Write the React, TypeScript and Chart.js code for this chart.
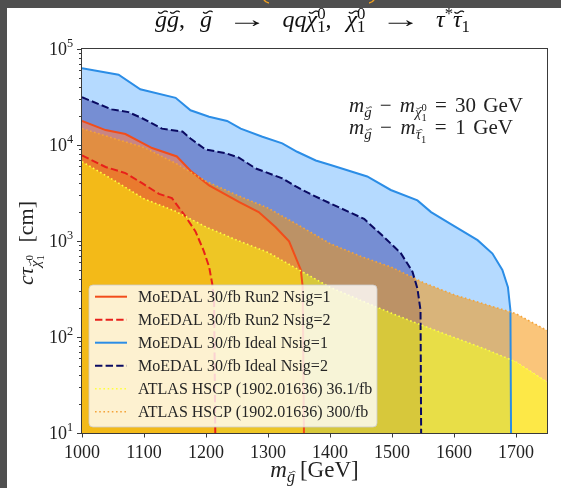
import React, { useEffect, useRef } from 'react';
import { Chart, registerables } from 'chart.js';

Chart.register(...registerables);

const FONT = '"Liberation Serif", "DejaVu Serif", serif';

// ---------- data ----------
const X_TICKS = [1000, 1100, 1200, 1300, 1400, 1500, 1600, 1700];
const Y_TICK_EXPONENTS = [1, 2, 3, 4, 5];

const ATLAS_MASS = [1000, 1050, 1100, 1150, 1200, 1250, 1300, 1350, 1400, 1450, 1500, 1550, 1600, 1650, 1700, 1750];
const ATLAS_36_CTAU = [6700, 4350, 2750, 2050, 1400, 1020, 760, 500, 330, 240, 176, 131, 99, 75, 55, 34];
const ATLAS_300_CTAU = [14800, 11800, 9400, 6500, 4200, 3000, 2200, 1450, 940, 690, 530, 370, 275, 219, 175, 117];

const RUN2_N1_MASS = [1000, 1038, 1070, 1113, 1153, 1175, 1205, 1253, 1285, 1312, 1334, 1353, 1356, 1358];
const RUN2_N1_CTAU = [17800, 14300, 13000, 9300, 7600, 5400, 3800, 2550, 2000, 1400, 990, 500, 330, 10];

const RUN2_N2_MASS = [1000, 1038, 1070, 1097, 1124, 1145, 1167, 1183, 1196, 1205, 1210, 1213, 1215];
const RUN2_N2_CTAU = [7800, 5900, 5100, 4000, 3100, 2800, 1800, 1260, 800, 540, 360, 243, 10];

const IDEAL_N1_MASS = [1000, 1059, 1094, 1151, 1175, 1205, 1234, 1256, 1291, 1323, 1347, 1377, 1401, 1460, 1498, 1541, 1563, 1595, 1638, 1662, 1678, 1687, 1691, 1692];
const IDEAL_N1_CTAU = [63000, 54000, 38000, 31000, 23000, 19700, 17800, 14800, 12200, 10400, 8500, 6900, 6200, 4700, 3400, 2650, 2000, 1500, 1020, 740, 500, 330, 190, 10];

const IDEAL_N2_MASS = [1000, 1048, 1075, 1097, 1129, 1162, 1175, 1199, 1232, 1253, 1280, 1323, 1345, 1372, 1417, 1455, 1487, 1514, 1533, 1541, 1546, 1547];
const IDEAL_N2_CTAU = [31400, 23500, 22000, 19000, 14800, 13800, 11700, 9000, 8200, 7400, 5700, 4500, 3700, 3000, 2200, 1700, 1100, 750, 480, 320, 190, 10];

const LABEL_RUN2_N1 = 'MoEDAL 30/fb Run2 Nsig=1';
const LABEL_RUN2_N2 = 'MoEDAL 30/fb Run2 Nsig=2';
const LABEL_IDEAL_N1 = 'MoEDAL 30/fb Ideal Nsig=1';
const LABEL_IDEAL_N2 = 'MoEDAL 30/fb Ideal Nsig=2';
const LABEL_ATLAS_36 = 'ATLAS HSCP (1902.01636) 36.1/fb';
const LABEL_ATLAS_300 = 'ATLAS HSCP (1902.01636) 300/fb';
const LEGEND_ORDER = [LABEL_RUN2_N1, LABEL_RUN2_N2, LABEL_IDEAL_N1, LABEL_IDEAL_N2, LABEL_ATLAS_36, LABEL_ATLAS_300];

const pts = (xs: number[], ys: number[]) => xs.map((x, i) => ({ x, y: ys[i] }));

// ---------- rich text ----------
type Seg = { t: string; it?: boolean; s?: number; dy?: number; g?: number; stack?: boolean; acc?: boolean; sx?: number };

function drawRich(
  ctx: CanvasRenderingContext2D,
  segs: Seg[],
  x: number,
  y: number,
  base: number,
  align: 'left' | 'center' | 'right',
  color: string,
  target?: number,
) {
  const measure = (extra: number) => {
    let cx = 0;
    let pend = 0;
    const items: { sg: Seg; x: number; w: number; font: string; size: number }[] = [];
    for (const sg of segs) {
      const size = base * (sg.s ?? 1);
      const font = `${sg.it ? 'italic ' : ''}${size}px ${FONT}`;
      ctx.font = font;
      const w = ctx.measureText(sg.t).width * (sg.sx ?? 1);
      items.push({ sg, x: cx, w, font, size });
      if (sg.stack) pend = Math.max(pend, w);
      else {
        cx += Math.max(w, pend);
        pend = 0;
      }
      if (sg.g !== undefined) cx += sg.g + extra;
    }
    return { items, width: cx };
  };
  let res = measure(0);
  if (target) {
    const n = segs.filter((s) => s.g !== undefined).length;
    if (n > 0) res = measure(Math.max(0, (target - res.width) / n));
  }
  const total = res.width;
  const x0 = align === 'left' ? x : align === 'center' ? x - total / 2 : x - total;
  ctx.fillStyle = color;
  ctx.textAlign = 'left';
  ctx.textBaseline = 'alphabetic';
  for (const it of res.items) {
    ctx.font = it.font;
    const yy = y + (it.sg.dy ?? 0) * base;
    if (it.sg.sx) {
      ctx.save();
      ctx.translate(x0 + it.x, yy);
      ctx.scale(it.sg.sx, 1);
      ctx.fillText(it.sg.t, 0, 0);
      ctx.restore();
    } else {
      ctx.fillText(it.sg.t, x0 + it.x, yy);
    }
    if (it.sg.acc) {
      const cxm = x0 + it.x + it.w / 2 + it.size * 0.08;
      const top = yy - it.size * 0.62;
      const hw = it.size * 0.2;
      const amp = it.size * 0.045;
      ctx.save();
      ctx.strokeStyle = color;
      ctx.lineWidth = Math.max(0.9, it.size * 0.05);
      ctx.beginPath();
      for (let k = 0; k <= 12; k++) {
        const u = k / 12;
        const px = cxm - hw + 2 * hw * u;
        const py = top + amp * Math.sin(u * Math.PI * 2);
        if (k === 0) ctx.moveTo(px, py);
        else ctx.lineTo(px, py);
      }
      ctx.stroke();
      ctx.restore();
    }
  }
}

const TITLE: Seg[] = [
  { t: 'g', it: true, acc: true },
  { t: 'g', it: true, acc: true },
  { t: ',', g: 6 },
  { t: 'g', it: true, acc: true, g: 6 },
  { t: '→', sx: 1.7, g: 6 },
  { t: 'qq', it: true },
  { t: 'χ', it: true, acc: true },
  { t: '0', s: 0.7, dy: -0.34, stack: true },
  { t: '1', s: 0.7, dy: 0.22 },
  { t: ',', g: 6 },
  { t: 'χ', it: true, acc: true },
  { t: '0', s: 0.7, dy: -0.34, stack: true },
  { t: '1', s: 0.7, dy: 0.22, g: 6 },
  { t: '→', sx: 1.7, g: 6 },
  { t: 'τ', it: true },
  { t: '*', s: 0.7, dy: -0.34 },
  { t: 'τ', it: true, acc: true },
  { t: '1', s: 0.7, dy: 0.22 },
];

const ANN1: Seg[] = [
  { t: 'm', it: true },
  { t: 'g', it: true, acc: true, s: 0.7, dy: 0.22, g: 4 },
  { t: '−', g: 4 },
  { t: 'm', it: true },
  { t: 'χ', it: true, acc: true, s: 0.7, dy: 0.25 },
  { t: '0', s: 0.5, dy: -0.05, stack: true },
  { t: '1', s: 0.5, dy: 0.45, g: 4 },
  { t: '=', g: 4 },
  { t: '30', g: 3 },
  { t: 'GeV' },
];
const ANN2: Seg[] = [
  { t: 'm', it: true },
  { t: 'g', it: true, acc: true, s: 0.7, dy: 0.22, g: 4 },
  { t: '−', g: 4 },
  { t: 'm', it: true },
  { t: 'τ', it: true, acc: true, s: 0.7, dy: 0.25 },
  { t: '1', s: 0.5, dy: 0.45, g: 4 },
  { t: '=', g: 4 },
  { t: '1', g: 3 },
  { t: 'GeV' },
];
const YLABEL: Seg[] = [
  { t: 'cτ', it: true },
  { t: 'χ', it: true, acc: true, s: 0.7, dy: 0.3 },
  { t: '0', s: 0.5, dy: 0.0, stack: true },
  { t: '1', s: 0.5, dy: 0.5, g: 5 },
  { t: '[cm]' },
];
const XLABEL: Seg[] = [
  { t: 'm', it: true },
  { t: 'g', it: true, acc: true, s: 0.7, dy: 0.22, g: 5 },
  { t: '[GeV]' },
];

export default function App() {
  const ref = useRef<HTMLCanvasElement | null>(null);

  useEffect(() => {
    const canvas = ref.current;
    if (!canvas) return;

    const datasets: any[] = [
      {
        label: LABEL_ATLAS_36,
        data: pts(ATLAS_MASS, ATLAS_36_CTAU),
        borderColor: '#ffff3c',
        borderWidth: 1.6,
        borderDash: [1.6, 2.6],
        backgroundColor: 'rgba(252,223,0,0.72)',
        fill: 'start',
      },
      {
        label: LABEL_ATLAS_300,
        data: pts(ATLAS_MASS, ATLAS_300_CTAU),
        borderColor: '#f4a43a',
        borderWidth: 1.6,
        borderDash: [1.6, 2.6],
        backgroundColor: 'rgba(246,150,13,0.55)',
        fill: 0,
      },
      {
        label: LABEL_RUN2_N2,
        data: pts(RUN2_N2_MASS, RUN2_N2_CTAU),
        borderColor: '#e8201a',
        borderWidth: 2,
        borderDash: [7.4, 3.2],
        backgroundColor: 'rgba(255,0,0,0.33)',
        fill: 'start',
      },
      {
        label: LABEL_RUN2_N1,
        data: pts(RUN2_N1_MASS, RUN2_N1_CTAU),
        borderColor: '#f24d1a',
        borderWidth: 2,
        backgroundColor: 'rgba(255,127,80,0.6)',
        fill: 'start',
      },
      {
        label: LABEL_IDEAL_N2,
        data: pts(IDEAL_N2_MASS, IDEAL_N2_CTAU),
        borderColor: '#0a0a62',
        borderWidth: 2,
        borderDash: [7.4, 3.2],
        backgroundColor: 'rgba(0,0,128,0.35)',
        fill: 'start',
      },
      {
        label: LABEL_IDEAL_N1,
        data: pts(IDEAL_N1_MASS, IDEAL_N1_CTAU),
        borderColor: '#2b8de6',
        borderWidth: 2,
        backgroundColor: 'rgba(30,144,255,0.33)',
        fill: 'start',
      },
    ];

    const decor = {
      id: 'decor',
      beforeDraw(chart: any) {
        const ctx = chart.ctx as CanvasRenderingContext2D;
        ctx.save();
        ctx.fillStyle = '#ffffff';
        ctx.fillRect(0, 0, chart.width, chart.height);
        ctx.fillStyle = '#4f4f4f';
        ctx.fillRect(0, 0, chart.width, 8);
        ctx.fillRect(0, 0, 7, chart.height);
        ctx.beginPath();
        ctx.rect(7, 0, chart.width, 8);
        ctx.clip();
        ctx.strokeStyle = '#f0a020';
        ctx.lineWidth = 1.5;
        ctx.beginPath();
        ctx.arc(270, -4, 7, Math.PI * 0.55, Math.PI * 0.95);
        ctx.stroke();
        ctx.beginPath();
        ctx.arc(368, -4, 7, Math.PI * 0.05, Math.PI * 0.45);
        ctx.stroke();
        ctx.restore();
      },
      afterDatasetsDraw(chart: any) {
        const ctx = chart.ctx as CanvasRenderingContext2D;
        const a = chart.chartArea;
        ctx.save();
        const bx = 89, by = 285, bw = 288, bh = 142, r = 4;
        ctx.beginPath();
        ctx.moveTo(bx + r, by);
        ctx.arcTo(bx + bw, by, bx + bw, by + bh, r);
        ctx.arcTo(bx + bw, by + bh, bx, by + bh, r);
        ctx.arcTo(bx, by + bh, bx, by, r);
        ctx.arcTo(bx, by, bx + bw, by, r);
        ctx.closePath();
        ctx.fillStyle = 'rgba(255,255,255,0.8)';
        ctx.fill();
        ctx.strokeStyle = 'rgba(204,204,204,0.8)';
        ctx.lineWidth = 1;
        ctx.stroke();
        LEGEND_ORDER.forEach((lab, i) => {
          const ds = chart.data.datasets.find((d: any) => d.label === lab);
          const cy = 296.7 + i * 23;
          ctx.beginPath();
          ctx.setLineDash(ds.borderDash || []);
          ctx.strokeStyle = ds.borderColor;
          ctx.lineWidth = ds.borderWidth;
          ctx.moveTo(95, cy);
          ctx.lineTo(127, cy);
          ctx.stroke();
          ctx.setLineDash([]);
          ctx.font = `16px ${FONT}`;
          ctx.fillStyle = '#262626';
          ctx.textAlign = 'left';
          ctx.textBaseline = 'alphabetic';
          ctx.fillText(lab, 138, cy + 5.5);
        });
        ctx.strokeStyle = '#3a3a3a';
        ctx.lineWidth = 1;
        ctx.strokeRect(Math.round(a.left) - 0.5, Math.round(a.top) - 0.5, Math.round(a.right - a.left) + 1, Math.round(a.bottom - a.top) + 1);
        ctx.restore();
      },
      afterDraw(chart: any) {
        const ctx = chart.ctx as CanvasRenderingContext2D;
        const a = chart.chartArea;
        const xs = chart.scales.x;
        const ys = chart.scales.y;
        ctx.save();
        ctx.strokeStyle = '#3a3a3a';
        ctx.lineWidth = 1;
        for (let e = Y_TICK_EXPONENTS[0]; e <= Y_TICK_EXPONENTS[Y_TICK_EXPONENTS.length - 1]; e++) {
          for (let k = 1; k <= 9; k++) {
            const v = k * Math.pow(10, e);
            if (v > ys.max * 1.0001) continue;
            const py = Math.round(ys.getPixelForValue(v)) + 0.5;
            const len = k === 1 ? 4.5 : 2.5;
            ctx.beginPath();
            ctx.moveTo(a.left - 0.5 - len, py);
            ctx.lineTo(a.left - 0.5, py);
            ctx.stroke();
          }
        }
        for (const v of X_TICKS) {
          const px = Math.round(xs.getPixelForValue(v)) + 0.5;
          ctx.beginPath();
          ctx.moveTo(px, a.bottom + 0.5);
          ctx.lineTo(px, a.bottom + 4.5);
          ctx.stroke();
        }
        for (const e of Y_TICK_EXPONENTS) {
          const py = ys.getPixelForValue(Math.pow(10, e));
          drawRich(ctx, [{ t: '10' }, { t: String(e), s: 0.68, dy: -0.45 }], 73, py + 6, 18, 'right', '#222');
        }
        drawRich(ctx, TITLE, 312.5, 27, 24, 'center', '#111', 315);
        drawRich(ctx, ANN1, 349, 112, 21, 'left', '#222', 174);
        drawRich(ctx, ANN2, 349, 134, 21, 'left', '#222', 164);
        drawRich(ctx, XLABEL, (a.left + a.right) / 2, 477, 23, 'center', '#222');
        ctx.translate(33, 243);
        ctx.rotate(-Math.PI / 2);
        drawRich(ctx, YLABEL, 0, 0, 22, 'center', '#222', 84);
        ctx.restore();
      },
    };

    const chart = new Chart(canvas, {
      type: 'line',
      data: { datasets },
      options: {
        animation: false,
        responsive: false,
        devicePixelRatio: 1,
        layout: { padding: { left: 0, top: 49, right: 14, bottom: 0 } },
        elements: { point: { radius: 0 }, line: { tension: 0 } },
        plugins: {
          legend: { display: false },
          title: { display: false },
          tooltip: { enabled: false },
          filler: { drawTime: 'beforeDatasetsDraw' },
        } as any,
        scales: {
          x: {
            type: 'linear',
            min: 1000,
            max: 1750,
            grid: { display: false, drawTicks: false },
            border: { display: false },
            afterBuildTicks: (s: any) => {
              s.ticks = X_TICKS.map((v) => ({ value: v }));
            },
            ticks: {
              autoSkip: false,
              maxRotation: 0,
              padding: 9,
              color: '#222',
              font: { family: FONT, size: 18 },
              callback: (v: any) => String(v),
            },
            afterFit: (s: any) => {
              s.height = 55;
            },
          },
          y: {
            type: 'logarithmic',
            min: 10,
            max: 100000,
            grid: { display: false, drawTicks: false },
            border: { display: false },
            ticks: { display: false },
            afterFit: (s: any) => {
              s.width = 82;
            },
          },
        },
      },
      plugins: [decor],
    });

    return () => chart.destroy();
  }, []);

  return (
    <div style={{ position: 'fixed', left: 0, top: 0, width: 561, height: 488 }}>
      <canvas ref={ref} width={561} height={488} style={{ display: 'block' }} />
    </div>
  );
}
